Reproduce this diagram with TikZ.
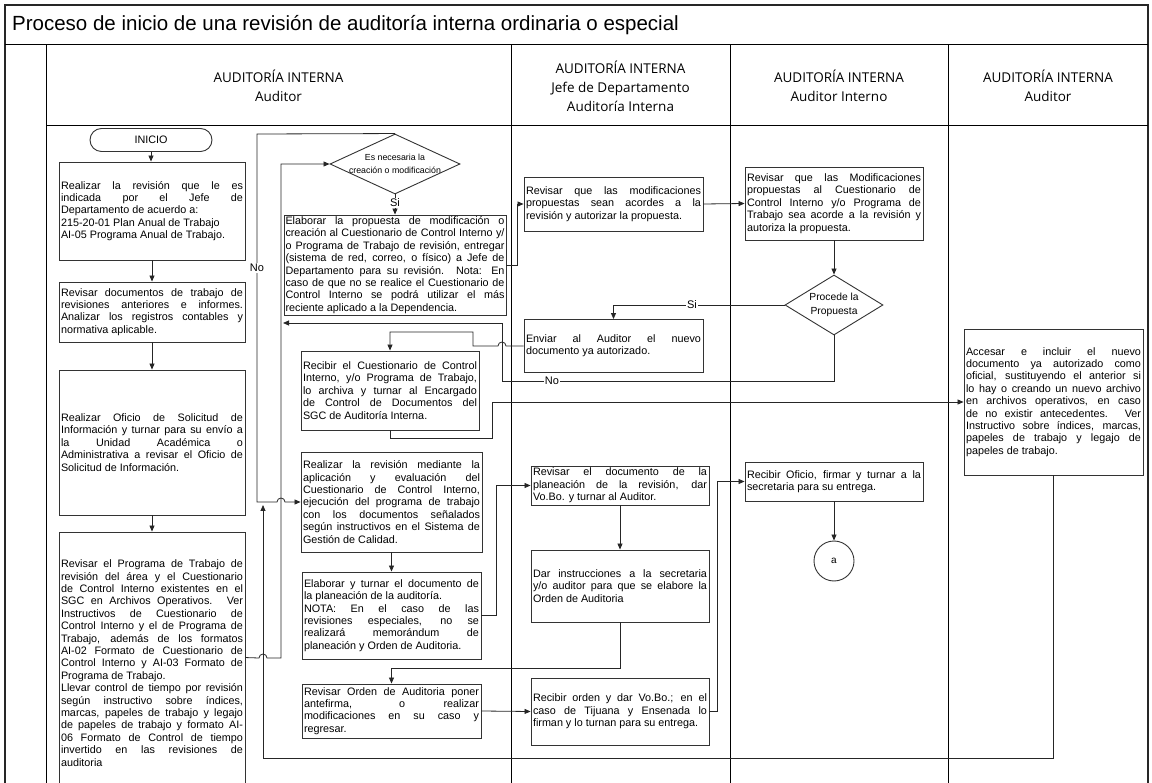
\documentclass[tikz,border=0pt]{standalone}
\usepackage{fontspec}
\setmainfont{Liberation Sans}
\newfontfamily\hdrfont{Open Sans}
\usetikzlibrary{arrows.meta,shapes.geometric,calc}
\hyphenpenalty=10000
\exhyphenpenalty=10000
\tolerance=10000
\begin{document}
\begin{tikzpicture}[x=1pt,y=-1pt]
\tikzset{
 box/.style={draw=black!80, line width=0.9pt, fill=white, inner xsep=2pt, inner ysep=0pt,
   align=justify, font=\fontsize{10.8pt}{12.4pt}\selectfont},
 conn/.style={draw=black!85, line width=0.8pt},
 arr/.style={conn, -{Triangle[length=6pt,width=5pt]}},
 lane/.style={draw=black, line width=1pt},
 frame/.style={draw=black!85, line width=1.3pt},
 lbl/.style={fill=white, inner sep=1pt, font=\fontsize{11pt}{12pt}\selectfont},
 hdr/.style={align=center, font=\hdrfont\fontsize{13.5pt}{19pt}\selectfont},
 dia/.style={diamond, draw=black!80, line width=0.9pt, fill=white, inner sep=0pt},
}
\useasboundingbox (0,0) rectangle (1152,783);
% frame and lanes
\draw[frame] (5,783) -- (5,5) -- (1148,5) -- (1148,783);
\draw[lane] (5,45) -- (1148,45);
\draw[lane] (46,126) -- (1148,126);
\foreach \x in {46,511,730,948} \draw[lane] (\x,45) -- (\x,783);
\node[anchor=west, inner sep=0pt, font=\fontsize{20.5pt}{24pt}\selectfont] (title) at (12,25)
  {Proceso de inicio de una revisión de auditoría interna ordinaria o especial};
\node[hdr] (h1) at (278.5,86) {AUDITORÍA INTERNA\\Auditor};
\node[hdr] (h2) at (620.5,86) {AUDITORÍA INTERNA\\Jefe de Departamento\\Auditoría Interna};
\node[hdr] (h3) at (839,86) {AUDITORÍA INTERNA\\Auditor Interno};
\node[hdr] (h4) at (1048,86) {AUDITORÍA INTERNA\\Auditor};

% lane 1
\node[draw=black!80, line width=0.9pt, rounded corners=11.5pt, minimum width=122pt, minimum height=23pt,
  font=\fontsize{10.8pt}{12pt}\selectfont] (ini) at (151,140) {INICIO};
\node[box, minimum width=186pt, minimum height=98pt, text width=182pt] (b1) at (152,211)
 {Realizar la revisión que le es\linebreak indicada por el Jefe de\linebreak Departamento de acuerdo a:\\ 215-20-01 Plan Anual de Trabajo\\ AI-05 Programa Anual de Trabajo.};
\node[box, minimum width=186pt, minimum height=60pt, text width=182pt] (b2) at (152,312)
 {Revisar documentos de trabajo de\linebreak revisiones anteriores e informes.\linebreak Analizar los registros contables y\linebreak normativa aplicable.};
\node[box, minimum width=186pt, minimum height=145pt, text width=182pt] (b3) at (152,442.5)
 {Realizar Oficio de Solicitud de\linebreak Información y turnar para su envío a\linebreak la Unidad Académica o\linebreak Administrativa a revisar el Oficio de\linebreak Solicitud de Información.};
\node[box, minimum width=186pt, minimum height=262pt, text width=182pt] (b4) at (152,663)
 {Revisar el Programa de Trabajo de\linebreak revisión del área y el Cuestionario\linebreak de Control Interno existentes en el\linebreak SGC en Archivos Operativos. Ver\linebreak Instructivos de Cuestionario de\linebreak Control Interno y el de Programa de\linebreak Trabajo, además de los formatos\linebreak AI-02 Formato de Cuestionario de\linebreak Control Interno y AI-03 Formato de\linebreak Programa de Trabajo.\\ Llevar control de tiempo por revisión\linebreak según instructivo sobre índices,\linebreak marcas, papeles de trabajo y legajo\linebreak de papeles de trabajo y formato AI-\linebreak 06 Formato de Control de tiempo\linebreak invertido en las revisiones de\linebreak auditoria};

% lane 1 (right part)
\node[dia, minimum width=130pt, minimum height=60pt] (d1) at (395,164) {};
\node[align=center, inner sep=0pt, font=\fontsize{8.8pt}{12.5pt}\selectfont] (d1t) at (395,164) {Es necesaria la\\creación o modificación};
\node[box, inner xsep=1.5pt, minimum width=222pt, minimum height=100pt, text width=219pt] (b5) at (395,265)
 {Elaborar la propuesta de modificación o\linebreak creación al Cuestionario de Control Interno y/\linebreak o Programa de Trabajo de revisión, entregar\linebreak (sistema de red, correo, o físico) a Jefe de\linebreak Departamento para su revisión. Nota: En\linebreak caso de que no se realice el Cuestionario de\linebreak Control Interno se podrá utilizar el más\linebreak reciente aplicado a la Dependencia.};
\node[box, minimum width=178pt, minimum height=79pt, text width=174pt] (b9) at (390,390.5)
 {Recibir el Cuestionario de Control\linebreak Interno, y/o Programa de Trabajo,\linebreak lo archiva y turnar al Encargado\linebreak de Control de Documentos del\linebreak SGC de Auditoría Interna.};
\node[box, minimum width=181pt, minimum height=100pt, text width=177pt] (b10) at (391.5,502)
 {Realizar la revisión mediante la\linebreak aplicación y evaluación del\linebreak Cuestionario de Control Interno,\linebreak ejecución del programa de trabajo\linebreak con los documentos señalados\linebreak según instructivos en el Sistema de\linebreak Gestión de Calidad.};
\node[box, minimum width=179pt, minimum height=87pt, text width=175pt] (b11) at (391.5,615.5)
 {Elaborar y turnar el documento de\linebreak la planeación de la auditoría.\\ NOTA: En el caso de las\linebreak revisiones especiales, no se\linebreak realizará memorándum de\linebreak planeación y Orden de Auditoria.};
\node[box, minimum width=179pt, minimum height=54pt, text width=175pt] (b14) at (391.5,711)
 {Revisar Orden de Auditoria poner\linebreak antefirma, o realizar\linebreak modificaciones en su caso y\linebreak regresar.};

% lane 2
\node[box, minimum width=179pt, minimum height=54pt, text width=175pt] (b6) at (613.5,204)
 {Revisar que las modificaciones\linebreak propuestas sean acordes a la\linebreak revisión y autorizar la propuesta.};
\node[box, minimum width=179pt, minimum height=53pt, text width=175pt] (b8) at (613.5,346)
 {Enviar al Auditor el nuevo\linebreak documento ya autorizado.};
\node[box, minimum width=178pt, minimum height=39pt, text width=174pt] (b12) at (620,485.5)
 {Revisar el documento de la\linebreak planeación de la revisión, dar\linebreak Vo.Bo. y turnar al Auditor.};
\node[box, minimum width=178pt, minimum height=72pt, text width=174pt] (b13) at (620,586)
 {Dar instrucciones a la secretaria\linebreak y/o auditor para que se elabore la\linebreak Orden de Auditoria};
\node[box, minimum width=178pt, minimum height=67pt, text width=174pt] (b15) at (620,711.5)
 {Recibir orden y dar Vo.Bo.; en el\linebreak caso de Tijuana y Ensenada lo\linebreak firman y lo turnan para su entrega.};

% lane 3
\node[box, minimum width=178pt, minimum height=73pt, text width=174pt] (b7) at (834,203.5)
 {Revisar que las Modificaciones\linebreak propuestas al Cuestionario de\linebreak Control Interno y/o Programa de\linebreak Trabajo sea acorde a la revisión y\linebreak autoriza la propuesta.};
\node[dia, minimum width=98pt, minimum height=60pt] (d2) at (834,305) {};
\node[align=center, inner sep=0pt, font=\fontsize{10.3pt}{14pt}\selectfont] (d2t) at (834,305) {Procede la\\Propuesta};
\node[box, minimum width=178pt, minimum height=39pt, text width=174pt] (b16) at (834,481.5)
 {Recibir Oficio, firmar y turnar a la\linebreak secretaria para su entrega.};
\node[draw=black!80, line width=0.9pt, circle, minimum size=40pt, inner sep=0pt,
  font=\fontsize{10pt}{12pt}\selectfont] (ca) at (834,561) {a};

% lane 4
\node[box, minimum width=179pt, minimum height=146pt, text width=175pt] (bacc) at (1053.5,402)
 {Accesar e incluir el nuevo\linebreak documento ya autorizado como\linebreak oficial, sustituyendo el anterior si\linebreak lo hay o creando un nuevo archivo\linebreak en archivos operativos, en caso\linebreak de no existir antecedentes. Ver\linebreak Instructivo sobre índices, marcas,\linebreak papeles de trabajo y legajo de\linebreak papeles de trabajo.};

% connectors lane 1 chain
\draw[arr] (ini.south) -- (b1.north -| ini.south);
\draw[arr] (b1.south) -- (b2.north);
\draw[arr] (b2.south) -- (b3.north);
\draw[arr] (b3.south) -- (b4.north);

% box4 -> decision 1
\coordinate (b4o) at ($(b4.north east)+(0,126)$);
\draw[arr] (b4o) -- (259,658) arc[start angle=180,end angle=0,radius=4pt] -- (281,658) -- (281,164) -- (d1.west);
% decision 1 No -> b10
\draw[arr] (d1.north) -- (257,134) -- (257,502) -- (277,502) arc[start angle=180,end angle=0,radius=4pt] -- (b10.west);
\node[lbl] (no1) at (257,268) {No};
% decision 1 Si -> b5
\draw[arr] (d1.south) -- (b5.north);
\node[lbl] (si1) at (395,203) {Si};
% b5 -> b6 -> b7 -> d2
\draw[arr] (b5.east) -- (517,265) -- (517,204) -- (b6.west);
\draw[arr] (b6.east) -- (b7.west);
\draw[arr] (b7.south) -- (d2.north);
% d2 Si -> b8
\draw[arr] (d2.west) -- (613.5,305) -- (b8.north);
\node[lbl] (si2) at (692,305) {Si};
% d2 No -> back to decision 1 line
\draw[arr] (d2.south) -- (834,381) -- (502,381) -- (502,323) -- (283,323);
\node[lbl] (no2) at (552,381) {No};
% b8 -> b9
\draw[arr] (b8.west) -- (506,346) arc[start angle=0,end angle=180,radius=4pt] -- (473,346) -- (473,332) -- (390,332) -- (b9.north);
% b9 -> bacc
\draw[arr] (b9.south) -- (390,438) -- (492,438) -- (492,402) -- (bacc.west);
% bacc -> back to b10 line
\draw[arr] (bacc.south) -- (1053.5,758) -- (263,758) -- (263,505);
% b10 -> b11 -> b12 -> b13 -> b14 -> b15 -> b16 -> a
\draw[arr] (b10.south) -- (b11.north);
\draw[arr] (b11.east) -- (496,615.5) -- (496,485.5) -- (b12.west);
\draw[arr] (b12.south) -- (b13.north);
\draw[arr] (b13.south) -- (620,668) -- (391.5,668) -- (b14.north);
\draw[arr] (b14.east) -- (b15.west);
\draw[arr] (b15.east) -- (717,711.5) -- (717,481.5) -- (b16.west);
\draw[arr] (b16.south) -- (ca.north);
\end{tikzpicture}
\end{document}
